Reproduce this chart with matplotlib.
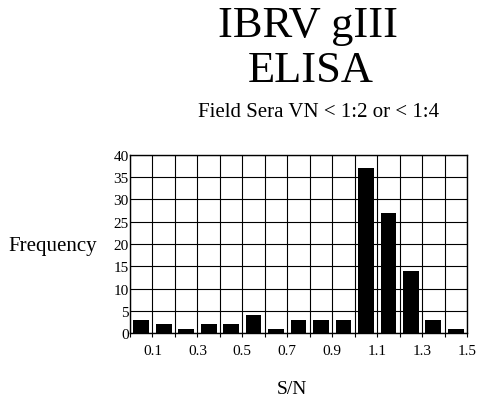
import numpy as np
import matplotlib
matplotlib.use('Agg')
import matplotlib.pyplot as plt

# S/N bins (0.1 wide) and frequency counts
bin_centers = [0.05, 0.15, 0.25, 0.35, 0.45, 0.55, 0.65, 0.75,
               0.85, 0.95, 1.05, 1.15, 1.25, 1.35, 1.45]
counts = [3, 2, 1, 2, 2, 4, 1, 3, 3, 3, 37, 27, 14, 3, 1]
xtick_labels = ['0.1', '0.3', '0.5', '0.7', '0.9', '1.1', '1.3', '1.5']
ytick_values = [0, 5, 10, 15, 20, 25, 30, 35, 40]

plt.rcParams['font.family'] = ['Liberation Serif', 'DejaVu Serif']

fig = plt.figure(figsize=(4.79, 4.02), dpi=100)
ax = fig.add_axes([0.2714, 0.169, 0.7036, 0.443])

ax.bar(bin_centers, counts, width=0.07, color='black', zorder=3)

ax.set_xlim(0, 1.5)
ax.set_ylim(0, 40)
ax.set_xticks(np.arange(0.1, 1.51, 0.2))
ax.set_xticklabels(xtick_labels, fontsize=11)
ax.set_xticks(np.arange(0, 1.51, 0.1), minor=True)
ax.set_yticks(ytick_values)
ax.set_yticklabels([str(v) for v in ytick_values], fontsize=11)
ax.tick_params(axis='x', which='both', length=3, width=0.8, direction='out', pad=5)
ax.tick_params(axis='y', length=0, pad=1)
ax.grid(True, which='both', color='black', linewidth=0.8, zorder=0)
for s in ax.spines.values():
    s.set_linewidth(1.0)

fig.text(0.643, 0.908, 'IBRV gIII', ha='center', va='baseline', fontsize=32)
fig.text(0.649, 0.796, 'ELISA', ha='center', va='baseline', fontsize=32)
fig.text(0.666, 0.71, 'Field Sera VN < 1:2 or < 1:4', ha='center', va='baseline', fontsize=15)
fig.text(0.110, 0.386, 'Frequency', ha='center', va='center', fontsize=15)
fig.text(0.61, 0.03, 'S/N', ha='center', va='center', fontsize=14)

fig.savefig('out.png', dpi=100)
